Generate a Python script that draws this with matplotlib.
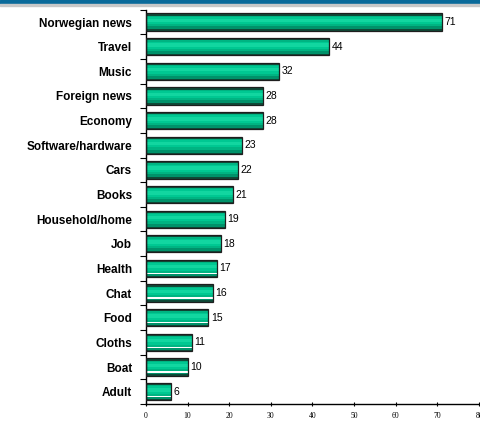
import matplotlib.pyplot as plt
from matplotlib.patches import Rectangle
import numpy as np

categories = ["Norwegian news", "Travel", "Music", "Foreign news", "Economy",
              "Software/hardware", "Cars", "Books", "Household/home", "Job",
              "Health", "Chat", "Food", "Cloths", "Boat", "Adult"]
values = [71, 44, 32, 28, 28, 23, 22, 21, 19, 18, 17, 16, 15, 11, 10, 6]
xticks = [0, 10, 20, 30, 40, 50, 60, 70, 80]


def main():
    fig = plt.figure(figsize=(4.8, 4.23), dpi=100)
    # header band
    fig.patches.append(Rectangle((0, 1 - 3 / 423), 1, 3 / 423, transform=fig.transFigure,
                                 color="#0a6a9a", zorder=0))
    fig.patches.append(Rectangle((0, 1 - 6 / 423), 1, 1.5 / 423, transform=fig.transFigure,
                                 color="#c8c8c8", zorder=0))

    ax = fig.add_axes([0.304, 0.045, 0.694, 0.932])
    y = np.arange(len(values))[::-1]

    # fake gradient: dark outer band, bright centre
    ax.barh(y, values, height=0.70, color="#0e4a38", linewidth=0, zorder=2)
    ax.barh(y - 0.02, values, height=0.56, color="#00926a", linewidth=0, zorder=2)
    ax.barh(y + 0.04, values, height=0.44, color="#00b482", linewidth=0, zorder=2)
    ax.barh(y + 0.06, values, height=0.30, color="#00c892", linewidth=0, zorder=2)
    ax.barh(y + 0.07, values, height=0.14, color="#12d6a0", linewidth=0, zorder=2)
    ax.barh(y, values, height=0.70, fill=False, edgecolor="#1e1e1e", linewidth=0.9, zorder=3)

    # the lower bars show a thin white streak near their bottom edge
    low = y[10:]
    ax.barh(low - 0.2, values[10:], height=0.05, color="white", linewidth=0, zorder=2.5)

    for yy, v in zip(y, values):
        ax.text(v + 0.6, yy, str(v), va="center", ha="left", fontsize=7.5,
                family="Liberation Sans")

    ax.set_xlim(0, 80)
    ax.set_ylim(-0.5, len(values) - 0.5)
    ax.set_yticks(y)
    ax.set_yticklabels(categories, fontsize=8.5, fontweight="bold", family="Liberation Sans")
    ax.set_yticks(np.arange(len(values) + 1) - 0.5, minor=True)
    ax.tick_params(axis="y", which="major", length=0, pad=10)
    ax.tick_params(axis="y", which="minor", length=4, width=0.8)
    ax.set_xticks(xticks)
    ax.set_xticklabels([str(t) for t in xticks], fontsize=5.5, family="Liberation Serif")
    ax.tick_params(axis="x", length=3, width=0.8, pad=4, direction="inout")
    ax.spines["top"].set_visible(False)
    ax.spines["right"].set_visible(False)
    ax.spines["left"].set_linewidth(1.0)
    ax.spines["bottom"].set_linewidth(1.0)

    fig.savefig("out.png", dpi=100)


if __name__ == "__main__":
    main()
